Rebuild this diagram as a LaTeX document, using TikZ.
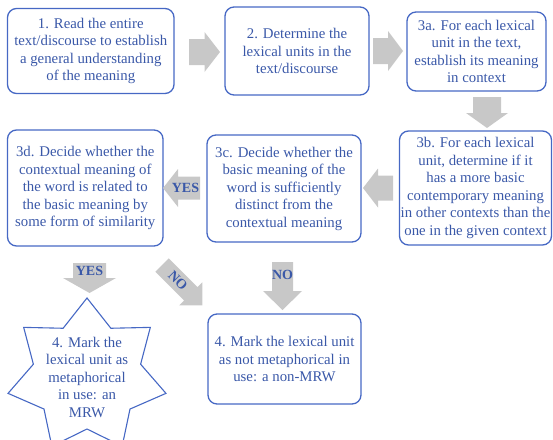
\documentclass[tikz,border=0pt]{standalone}
\usepackage{fontspec}
\setmainfont{Liberation Serif}
\usetikzlibrary{calc}
\definecolor{txtblue}{RGB}{58,88,168}
\definecolor{lineblue}{RGB}{70,104,196}
\definecolor{arrgray}{RGB}{200,200,200}
% #1 name, #2 tail point, #3 rotation, #4 length, #5 head length, #6 head width, #7 shaft width
\newcommand\blkarrow[7]{%
  \coordinate (#1) at #2;
  \begin{scope}[shift={#2},rotate=#3]
    \fill[arrgray] (0,{-#7/2}) -- ({#4-#5},{-#7/2}) -- ({#4-#5},{-#6/2}) -- (#4,0)
      -- ({#4-#5},{#6/2}) -- ({#4-#5},{#7/2}) -- (0,{#7/2}) -- cycle;
  \end{scope}}
\begin{document}
\begin{tikzpicture}[x=1pt,y=-1pt,
  box/.style={draw=lineblue, line width=1.3pt, rounded corners=9pt, text=txtblue,
    align=center, inner sep=0pt, font=\fontsize{14.8}{17.5}\selectfont},
  startext/.style={text=txtblue, align=center, inner sep=0pt, font=\fontsize{14.8}{17.5}\selectfont},
  starline/.style={draw=lineblue, line width=1.1pt, line join=miter},
  lab/.style={text=txtblue, inner sep=0pt, font=\bfseries\fontsize{14}{16}\selectfont}]
\useasboundingbox (0,0) rectangle (553,439);

% boxes
\node[box, minimum width=166.5pt, minimum height=85pt] (b1) at (90.75,51)
  {1. Read the entire\\text/discourse to establish\\a general understanding\\of the meaning};
\node[box, minimum width=144pt, minimum height=88pt] (b2) at (297,51)
  {2. Determine the\\lexical units in the\\text/discourse};
\node[box, minimum width=139pt, minimum height=79pt] (b3a) at (476.5,51.5)
  {3a. For each lexical\\unit in the text,\\establish its meaning\\in context};
\node[box, minimum width=152pt, minimum height=114pt] (b3b) at (475.5,188)
  {3b. For each lexical\\unit, determine if it\\has a more basic\\contemporary meaning\\in other contexts than the\\one in the given context};
\node[box, minimum width=154pt, minimum height=107pt] (b3c) at (284,188.5)
  {3c. Decide whether the\\basic meaning of the\\word is sufficiently\\distinct from the\\contextual meaning};
\node[box, minimum width=155.5pt, minimum height=116pt] (b3d) at (85.25,188)
  {3d. Decide whether the\\contextual meaning of\\the word is related to\\the basic meaning by\\some form of similarity};
\node[box, minimum width=153pt, minimum height=90pt] (b4) at (284.5,359)
  {4. Mark the lexical unit\\as not metaphorical in\\use: a non-MRW};

% star
\coordinate (sc) at (87,376);
\draw[starline] ($(sc)+(-90:81 and 78)$)
  \foreach \k in {0,...,6}{
    -- ($(sc)+({-90+(\k+0.5)*360/7}:55 and 53)$)
    -- ($(sc)+({-90+(\k+1)*360/7}:81 and 78)$)} -- cycle;
\node[startext] (st) at (87,377) {4. Mark the\\lexical unit as\\metaphorical\\in use: an\\MRW};

% block arrows
\blkarrow{a12}{(189,52)}{0}{31}{15.5}{40}{26}
\blkarrow{a23}{(373,51)}{0}{30}{15}{40}{26}
\blkarrow{a3ab}{(487,97)}{-90}{31}{15}{42}{28}
\blkarrow{a3bc}{(393,188)}{180}{30}{15}{39}{25}
\blkarrow{ayes}{(200,188)}{180}{37}{15}{38}{23}
\blkarrow{ayesd}{(89.5,263)}{-90}{30}{15}{53}{33}
\blkarrow{anod}{(162,265)}{-45}{57}{16.3}{32.5}{19}
\blkarrow{anodn}{(282.5,262)}{-90}{48}{19}{39}{21}

% labels
\node[lab] (lyes1) at (185.5,188) {YES};
\node[lab] (lyes2) at (89.5,271) {YES};
\node[lab, rotate=-45] (lno1) at (178,281) {NO};
\node[lab] (lno2) at (282.5,275) {NO};
\end{tikzpicture}
\end{document}
